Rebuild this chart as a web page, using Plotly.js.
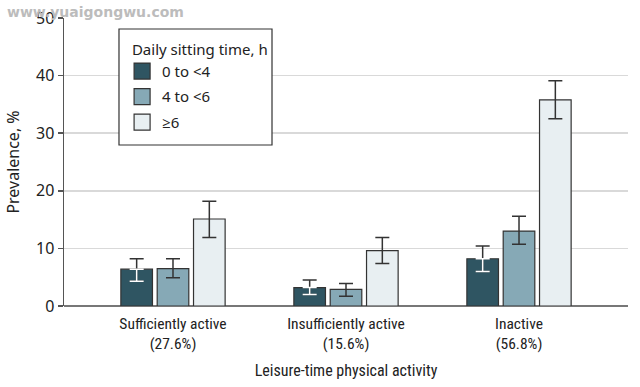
<!DOCTYPE html>
<html><head><meta charset="utf-8">
<script src="https://cdn.plot.ly/plotly-3.0.1.min.js"></script>
<style>body{margin:0;background:#fff}#chart{width:640px;height:387px}</style>
</head><body><div id="chart"></div>
<script>
const categories = ["Sufficiently active<br>(27.6%)", "Insufficiently active<br>(15.6%)", "Inactive<br>(56.8%)"];
const seriesNames = ["0 to <4", "4 to <6", "≥6"];
const val_0to4 = [6.4, 3.2, 8.2];
const hi_0to4 = [8.2, 4.5, 10.4];
const lo_0to4 = [4.3, 2.0, 6.0];
const val_4to6 = [6.5, 2.9, 13.0];
const hi_4to6 = [8.2, 3.9, 15.6];
const lo_4to6 = [4.9, 1.7, 10.7];
const val_6 = [15.1, 9.6, 35.8];
const hi_6 = [18.2, 11.9, 39.1];
const lo_6 = [11.9, 7.4, 32.5];
const yTicks = [0, 10, 20, 30, 40, 50];

const colors = ["#2f5562", "#86a9b6", "#e8eff2"];
const CFONT = "Roboto Condensed, Liberation Sans Narrow, sans-serif";
const NFONT = "Noto Sans, Open Sans, sans-serif";

function mk(name, v, hi, lo, color, og) {
  return {
    type: "bar", name: name, x: categories, y: v, offsetgroup: og, showlegend: false,
    marker: {color: color, line: {color: "#333", width: 1.2}},
    error_y: {type: "data", symmetric: false,
      array: hi.map((h, i) => h - v[i]), arrayminus: lo.map((l, i) => v[i] - l),
      color: "#333", thickness: 1.5, width: 7},
    hoverinfo: "none"
  };
}
function legendItem(name, color, grp) {
  return {
    type: "scatter", mode: "markers", name: name, x: [categories[0]], y: [null],
    legendgroup: grp,
    marker: {symbol: "square", size: 16, color: color, line: {color: "#333", width: 1.2}},
    hoverinfo: "none", showlegend: true
  };
}
const traces = [
  mk(seriesNames[0], val_0to4, hi_0to4, lo_0to4, colors[0], "a"),
  mk(seriesNames[1], val_4to6, hi_4to6, lo_4to6, colors[1], "b"),
  mk(seriesNames[2], val_6, hi_6, lo_6, colors[2], "c"),
  {
    type: "bar", x: categories, y: val_0to4, offsetgroup: "a", showlegend: false,
    marker: {color: "rgba(0,0,0,0)", line: {width: 0}},
    error_y: {type: "data", symmetric: false, array: [0, 0, 0],
      arrayminus: lo_0to4.map((l, i) => val_0to4[i] - l),
      color: "#ffffff", thickness: 1.5, width: 7},
    hoverinfo: "none"
  },
  legendItem(seriesNames[0], colors[0], "g1"),
  legendItem(seriesNames[1], colors[1], "g2"),
  legendItem(seriesNames[2], colors[2], "g3")
];

const layout = {
  width: 640, height: 387,
  margin: {l: 64, r: 12, t: 18, b: 81},
  paper_bgcolor: "#fff", plot_bgcolor: "#fff",
  font: {family: NFONT, size: 15, color: "#222"},
  barmode: "group", bargap: 0.37, bargroupgap: 0.13,
  showlegend: true,
  legend: {
    x: 0.103, y: 0.94, xanchor: "left", yanchor: "top",
    bgcolor: "rgba(0,0,0,0)", borderwidth: 0,
    title: {text: "\u00a0\u00a0Daily sitting time, h", font: {family: NFONT, size: 15}},
    font: {family: NFONT, size: 15}, tracegroupgap: 3, traceorder: "grouped", itemwidth: 30
  },
  shapes: [{
    type: "rect", xref: "paper", yref: "paper", layer: "above",
    x0: 0.0975, x1: 0.3688, y0: 0.559, y1: 0.9618,
    fillcolor: "#ffffff", line: {color: "#333", width: 1.2}
  }],
  xaxis: {
    type: "category", range: [-0.63, 2.63],
    showline: false, showgrid: false, ticks: "",
    tickfont: {family: CFONT, size: 15.5}, ticklabelstandoff: 6,
    title: {text: "Leisure-time physical activity", font: {family: CFONT, size: 16}, standoff: 13}
  },
  yaxis: {
    range: [0, 50], tickvals: yTicks, ticktext: yTicks.map(String),
    showgrid: true, gridcolor: "#d9d9d9", gridwidth: 1.5,
    showline: true, linecolor: "#555", linewidth: 1.5,
    ticks: "outside", ticklen: 5, tickcolor: "#555", tickwidth: 1.5,
    zeroline: true, zerolinecolor: "#777", zerolinewidth: 2,
    tickfont: {family: NFONT, size: 16},
    title: {text: "Prevalence, %", font: {family: NFONT, size: 16}, standoff: 12}
  },
  annotations: [{
    text: "www.yuaigongwu.com", xref: "paper", yref: "paper",
    x: -0.1046, y: 1.055, xanchor: "left", yanchor: "top", showarrow: false,
    font: {family: "DejaVu Sans, sans-serif", size: 14, color: "#bcbcbc", weight: 700}
  }]
};
Plotly.newPlot("chart", traces, layout, {displayModeBar: false, staticPlot: true});
</script></body></html>
